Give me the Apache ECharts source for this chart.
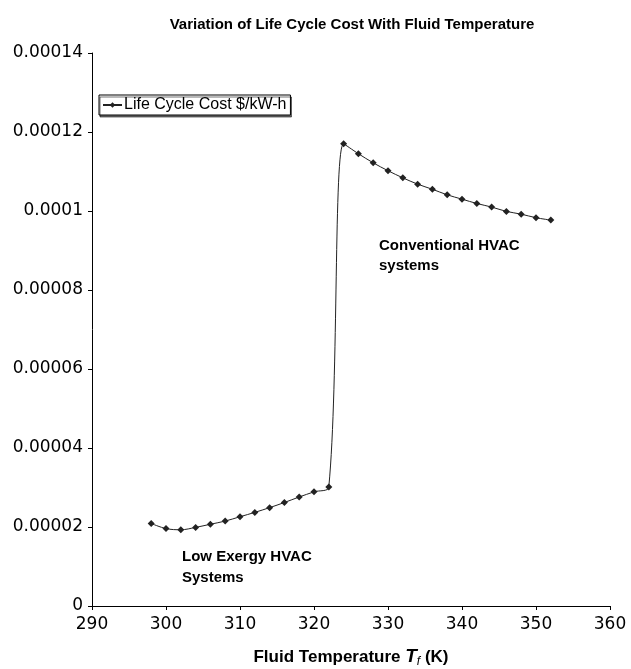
<!DOCTYPE html>
<html><head><meta charset="utf-8">
<script src="https://cdn.jsdelivr.net/npm/echarts@6/dist/echarts.min.js"></script>
<style>html,body{margin:0;padding:0;background:#fff;overflow:hidden}#c{width:631px;height:669px}</style>
</head><body><div id="c"></div>
<script>
const temperatures = [298,300,302,304,306,308,310,312,314,316,318,320,322,324,326,328,330,332,334,336,338,340,342,344,346,348,350,352];
const lifeCycleCost = [0.0000209,0.0000196,0.0000193,0.0000199,0.0000207,0.0000215,0.0000226,0.0000237,0.0000249,0.0000262,0.0000276,0.0000289,0.0000301,
  0.0001170,0.0001145,0.0001122,0.0001102,0.0001084,0.0001068,0.0001055,0.0001041,0.0001030,0.0001019,0.0001010,0.0000999,0.0000992,0.0000983,0.0000977];
const seriesName = 'Life Cycle Cost $/kW-h';
const xTicks = [290,300,310,320,330,340,350,360];
const yTicks = [0,0.00002,0.00004,0.00006,0.00008,0.0001,0.00012,0.00014];
const titleText = 'Variation of Life Cycle Cost With Fluid Temperature';
const noteHigh = 'Conventional HVAC\nsystems';
const noteLow = 'Low Exergy HVAC\nSystems';

const FONT = 'Liberation Sans, Arial, sans-serif';
const TICKFONT = 'DejaVu Sans, sans-serif';
const chart = echarts.init(document.getElementById('c'));
chart.setOption({
  animation: false,
  backgroundColor: '#fff',
  title: { text: titleText, left: 347, textAlign: 'center', top: 12,
    textStyle: { fontFamily: FONT, fontSize: 15, fontWeight: 'bold', color: '#000' } },
  grid: { left: 92, right: 21, top: 53, bottom: 63, containLabel: false, outerBoundsMode: 'none' },
  legend: { left: 99, top: 95, orient: 'horizontal', data: [seriesName],
    borderColor: '#000', borderWidth: 1, padding: [2, 4, 2, 3], itemGap: 0,
    itemWidth: 19, itemHeight: 7, backgroundColor: '#fff',
    shadowColor: 'rgba(0,0,0,0.55)', shadowOffsetX: 1, shadowOffsetY: 2, shadowBlur: 0,
    textStyle: { fontFamily: FONT, fontSize: 16, color: '#000', padding: [0,0,0,-3] } },
  xAxis: { type: 'value', min: xTicks[0], max: xTicks[xTicks.length-1], interval: 10,
    name: '{b|Fluid Temperature }{i|T}{s|f}{b| (K)}', nameLocation: 'middle', nameGap: 40,
    nameTextStyle: { rich: {
      b: { fontFamily: 'Liberation Sans Narrow, Arial Narrow, ' + FONT, fontSize: 17, fontWeight: 'bold', color: '#000' },
      i: { fontFamily: FONT, fontSize: 19, fontWeight: 'bold', fontStyle: 'italic', color: '#000' },
      s: { fontFamily: FONT, fontSize: 12, fontStyle: 'italic', color: '#000', padding: [10,0,0,0] } } },
    axisLine: { onZero: false, lineStyle: { color: '#000', width: 1 } },
    axisTick: { show: true, inside: false, length: 4, lineStyle: { color: '#000' } },
    axisLabel: { fontFamily: TICKFONT, fontSize: 17, color: '#000', margin: 10 },
    splitLine: { show: false } },
  yAxis: { type: 'value', min: yTicks[0], max: yTicks[yTicks.length-1], interval: 0.00002,
    axisLine: { show: true, lineStyle: { color: '#000', width: 1 } },
    axisTick: { show: true, inside: false, length: 4, lineStyle: { color: '#000' } },
    axisLabel: { fontFamily: TICKFONT, fontSize: 17, color: '#000', margin: 9,
      formatter: v => v === 0 ? '0' : String(+v.toFixed(6)) },
    splitLine: { show: false } },
  graphic: [
    { type: 'text', left: 379, top: 236, style: { text: noteHigh, fontFamily: FONT, fontSize: 15, fontWeight: 'bold', fill: '#000', lineHeight: 20 } },
    { type: 'text', left: 182, top: 546, style: { text: noteLow, fontFamily: FONT, fontSize: 15, fontWeight: 'bold', fill: '#000', lineHeight: 21 } }
  ],
  series: [{ name: seriesName, type: 'line', smooth: 0.35,
    data: temperatures.map((t, i) => [t, lifeCycleCost[i]]),
    symbol: 'diamond', symbolSize: 7, showAllSymbol: true,
    itemStyle: { color: '#222' }, lineStyle: { color: '#222', width: 1 } }]
});
</script></body></html>
